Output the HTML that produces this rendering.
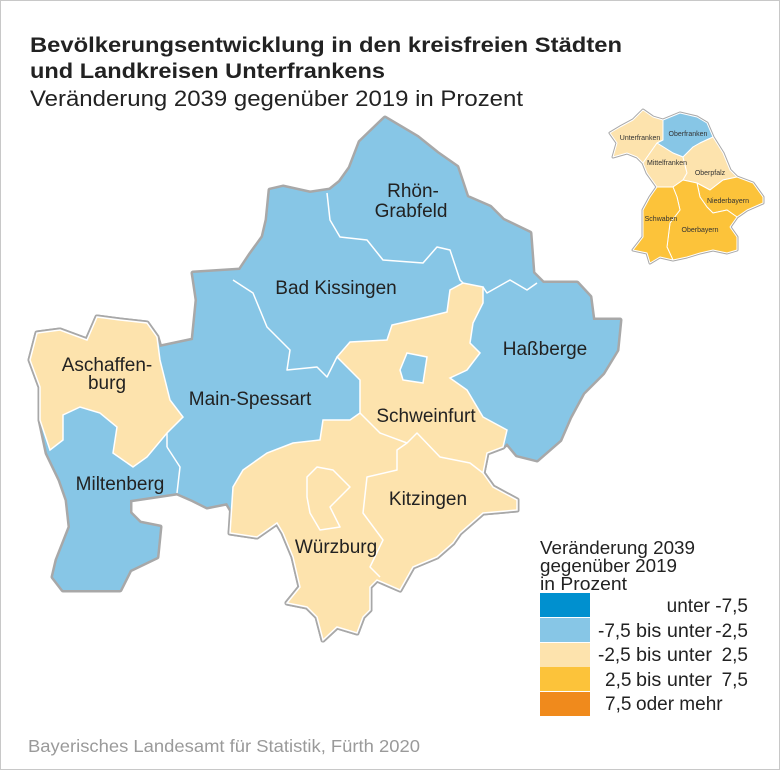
<!DOCTYPE html>
<html><head><meta charset="utf-8"><style>
html,body{margin:0;padding:0;background:#fff}
svg{display:block}
text{font-family:"Liberation Sans",Arial,sans-serif}
</style></head><body>
<svg width="780" height="770" viewBox="0 0 780 770" xmlns="http://www.w3.org/2000/svg">
<rect x="0.5" y="0.5" width="779" height="769" fill="#fff" stroke="#c8c8c8"/>
<text x="30" y="52" font-size="21.5" font-weight="bold" fill="#222" textLength="592" lengthAdjust="spacingAndGlyphs">Bevölkerungsentwicklung in den kreisfreien Städten</text>
<text x="30" y="78" font-size="21.5" font-weight="bold" fill="#222" textLength="355" lengthAdjust="spacingAndGlyphs">und Landkreisen Unterfrankens</text>
<text x="30" y="106" font-size="22" fill="#222" textLength="493" lengthAdjust="spacingAndGlyphs">Veränderung 2039 gegenüber 2019 in Prozent</text>

<defs>
<polygon id="outer" points="385,118 417,137 437,153 457,167 467,197 490,207 503,220 530,233 533,273 543,283 577,283 590,297 593,320 620,320 617,350 603,373 583,393 570,417 560,440 537,460 517,455 507,443 503,447 487,453 483,473 493,487 517,500 517,510 483,513 460,533 453,543 437,557 413,567 400,590 377,580 370,587 370,610 363,617 357,633 337,627 323,640 317,617 307,607 287,603 300,587 293,557 283,533 277,523 257,537 230,533 233,513 227,503 207,507 193,500 177,493 130,500 130,513 140,523 160,527 157,557 130,570 120,590 63,590 53,577 57,560 70,527 67,500 60,480 47,453 40,420 40,387 30,360 37,333 60,330 87,340 97,317 120,320 147,323 157,337 160,347 193,340 197,300 193,273 240,270 250,255 263,237 267,220 270,190 283,187 310,193 330,190 340,182 350,168 360,142"/>
<polygon id="asch" points="157,337 147,323 120,320 97,317 87,340 60,330 37,333 30,360 40,387 40,420 50,450 63,440 63,415 80,407 100,413 117,427 113,453 133,467 147,457 167,433 183,417 170,400 160,360"/>
<polygon id="swk" points="337,357 350,342 387,340 392,325 427,317 447,312 450,290 463,283 483,287 483,303 473,323 470,343 480,353 467,370 450,378 467,390 483,417 507,430 503,447 487,453 483,473 493,487 517,500 517,510 483,513 460,533 453,543 437,557 413,567 400,590 377,580 370,587 370,610 363,617 357,633 337,627 323,640 317,617 307,607 287,603 300,587 293,557 283,533 277,523 257,537 230,533 233,487 243,470 267,453 293,443 320,440 323,420 350,420 360,413 360,380 347,367"/>
</defs>
<g stroke="#a8a8a8" stroke-width="5" stroke-linejoin="round" fill="none">
<use href="#outer"/><use href="#asch"/><use href="#swk"/>
</g>
<use href="#outer" fill="#87c6e6"/>
<use href="#asch" fill="#fde3ad" stroke="#fff" stroke-width="1.5"/>
<use href="#swk" fill="#fde3ad" stroke="#fff" stroke-width="1.5"/>
<polygon points="407,353 427,357 423,383 403,380 400,370" fill="#87c6e6" stroke="#fff" stroke-width="1.5"/>
<g stroke="#fff" stroke-width="1.5" fill="none" stroke-linejoin="round">
<polyline points="327,193 330,220 340,237 367,240 383,260 423,263 437,247 450,250 460,280 463,283"/>
<polyline points="483,287 487,293 510,280 527,290 537,283"/>
<polyline points="233,280 253,293 267,327 290,350 287,370 317,367 327,377 337,357"/>
<polyline points="167,447 180,467 177,493"/>
<polyline points="167,433 167,447"/>
<polyline points="360,413 380,433 407,443 417,433 440,457 470,463 483,473"/>
<polyline points="407,443 397,450 397,470 367,477 363,513 383,540 370,567 380,577"/>
<polygon points="307,477 317,467 333,470 350,487 330,507 340,527 320,530 310,513 307,497"/>
</g>

<g font-size="19" fill="#222" text-anchor="middle">
<text x="413" y="197">Rhön-</text>
<text x="411" y="217">Grabfeld</text>
<text x="336" y="294">Bad Kissingen</text>
<text x="545" y="355">Haßberge</text>
<text x="107" y="371">Aschaffen-</text>
<text x="107" y="389">burg</text>
<text x="250" y="405">Main-Spessart</text>
<text x="426" y="422">Schweinfurt</text>
<text x="120" y="490">Miltenberg</text>
<text x="428" y="505">Kitzingen</text>
<text x="336" y="553">Würzburg</text>
</g>

<!-- inset -->
<g stroke="#a8a8a8" stroke-width="3" stroke-linejoin="round" fill="none">
<polygon points="610,133 620,127 633,120 643,110 653,117 663,120 680,113 697,117 707,123 713,137 723,153 730,170 737,177 753,183 763,197 763,203 747,210 737,217 730,227 737,237 737,250 727,253 713,250 700,253 687,257 673,260 660,257 650,263 647,253 633,250 643,237 643,210 650,197 657,187 647,173 643,163 637,157 627,153 613,157 617,143"/>
</g>
<g stroke="#fff" stroke-width="1" stroke-linejoin="round">
<polygon fill="#fde3ad" points="610,133 620,127 633,120 643,110 653,117 663,120 663,140 657,143 650,153 643,163 637,157 627,153 613,157 617,143"/>
<polygon fill="#87c6e6" points="663,120 680,113 697,117 707,123 713,137 700,143 693,147 683,157 673,153 657,143 663,140"/>
<polygon fill="#fde3ad" points="650,153 657,143 673,153 683,157 687,173 683,180 673,187 657,187 647,173 643,163"/>
<polygon fill="#fde3ad" points="683,157 693,147 700,143 713,137 723,153 730,170 737,177 723,180 710,190 697,183 683,180 687,173"/>
<polygon fill="#fcc33a" points="697,183 710,190 723,180 737,177 753,183 763,197 763,203 747,210 737,217 727,210 713,213 707,207 700,197"/>
<polygon fill="#fcc33a" points="673,187 683,180 697,183 700,197 707,207 713,213 727,210 737,217 730,227 737,237 737,250 727,253 713,250 700,253 687,257 673,260 667,247 670,223 680,210 677,197"/>
<polygon fill="#fcc33a" points="657,187 673,187 677,197 680,210 670,223 667,247 673,260 660,257 650,263 647,253 633,250 643,237 643,210 650,197"/>
</g>
<g font-size="7" fill="#333" text-anchor="middle">
<text x="640" y="140">Unterfranken</text>
<text x="688" y="136">Oberfranken</text>
<text x="667" y="165">Mittelfranken</text>
<text x="710" y="175">Oberpfalz</text>
<text x="728" y="203">Niederbayern</text>
<text x="661" y="221">Schwaben</text>
<text x="700" y="232">Oberbayern</text>
</g>

<!-- legend -->
<g font-size="18.5" fill="#222">
<text x="540" y="554" textLength="155" lengthAdjust="spacingAndGlyphs">Veränderung 2039</text>
<text x="540" y="572" textLength="137" lengthAdjust="spacingAndGlyphs">gegenüber 2019</text>
<text x="540" y="590" textLength="87" lengthAdjust="spacingAndGlyphs">in Prozent</text>
</g>
<rect x="540" y="593" width="50" height="24" fill="#0090cf"/>
<rect x="540" y="618" width="50" height="24" fill="#87c6e6"/>
<rect x="540" y="643" width="50" height="24" fill="#fde3ad"/>
<rect x="540" y="667" width="50" height="24" fill="#fcc33a"/>
<rect x="540" y="692" width="50" height="24" fill="#f08a1c"/>
<g font-size="19" fill="#222">
<text x="748" y="612" text-anchor="end">unter -7,5</text>
<text x="598" y="637">-7,5</text><text x="636" y="637" textLength="76" lengthAdjust="spacingAndGlyphs">bis unter</text><text x="748" y="637" text-anchor="end">-2,5</text>
<text x="598" y="661">-2,5</text><text x="636" y="661" textLength="76" lengthAdjust="spacingAndGlyphs">bis unter</text><text x="748" y="661" text-anchor="end">2,5</text>
<text x="605" y="686">2,5</text><text x="636" y="686" textLength="76" lengthAdjust="spacingAndGlyphs">bis unter</text><text x="748" y="686" text-anchor="end">7,5</text>
<text x="605" y="710">7,5</text><text x="636" y="710">oder mehr</text>
</g>

<text x="28" y="752" font-size="17.5" fill="#9a9a9a" textLength="392" lengthAdjust="spacingAndGlyphs">Bayerisches Landesamt für Statistik, Fürth 2020</text>
</svg>
</body></html>
